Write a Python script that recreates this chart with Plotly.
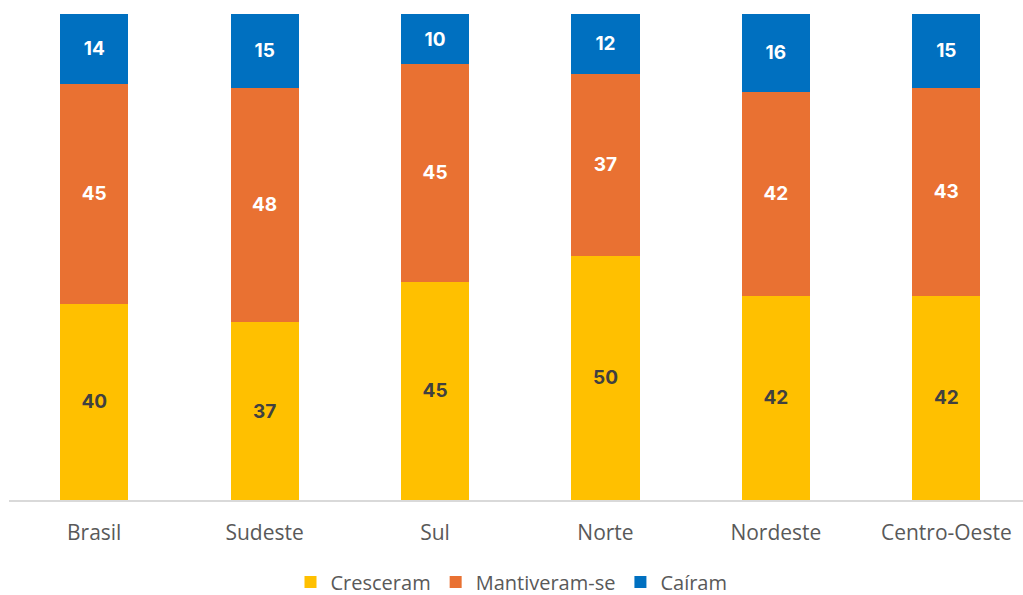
import plotly.graph_objects as go

regioes = ["Brasil", "Sudeste", "Sul", "Norte", "Nordeste", "Centro-Oeste"]
cresceram = [40.4, 36.6, 44.9, 50.3, 42.0, 42.0]
mantiveram = [45.2, 48.2, 44.8, 37.4, 42.0, 42.8]
cairam = [14.4, 15.2, 10.3, 12.3, 16.0, 15.2]

fig = go.Figure()
series = [
    ("Cresceram", cresceram, "#FFC000", "#404040"),
    ("Mantiveram-se", mantiveram, "#E97132", "white"),
    ("Caíram", cairam, "#0070C0", "white"),
]
for nome, vals, cor, cor_txt in series:
    fig.add_trace(go.Bar(
        x=regioes, y=vals, name=nome, marker_color=cor, marker_line_width=0,
        width=0.4, texttemplate="%{y:.0f}", textposition="inside",
        insidetextanchor="middle",
        textfont=dict(color=cor_txt, size=19, family="Inter", weight="bold"),
    ))

fig.update_layout(
    barmode="stack",
    width=1023, height=595,
    margin=dict(l=9, r=0, t=14, b=95),
    plot_bgcolor="white", paper_bgcolor="white",
    font=dict(family="Open Sans", color="#595959", size=20),
    showlegend=True,
    legend=dict(orientation="h", x=0.5, xanchor="center", xref="container",
                y=0.022, yanchor="middle", yref="container",
                font=dict(size=20, color="#595959"), traceorder="normal",
                itemwidth=30),
)
fig.update_xaxes(range=[-0.5, 5.45], showline=True, linecolor="#D9D9D9", linewidth=2,
                 ticks="", ticklabelstandoff=13, tickfont=dict(size=21, color="#595959"))
fig.update_yaxes(range=[0, 100], visible=False, showgrid=False)

fig.write_html("out.html", config={"displayModeBar": False},
               post_script="document.body.style.margin='0';")
